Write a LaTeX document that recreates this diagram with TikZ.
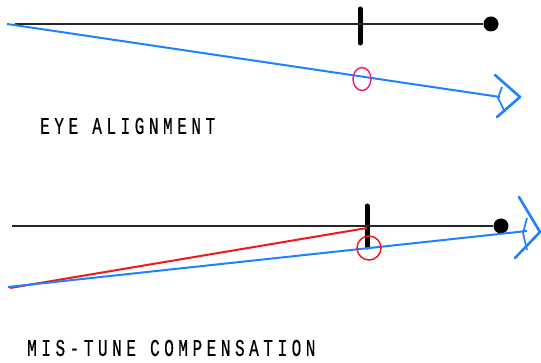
\documentclass[tikz,border=0pt]{standalone}
\usepackage{xcolor}
\usepackage{fontspec}
\usepackage{tikz}
\usetikzlibrary{arrows.meta,positioning,calc}
\setmonofont[LetterSpace=28.5,FakeBold=0.6]{Liberation Mono}
\definecolor{raycol}{HTML}{1E82FF}
\definecolor{pinkcol}{HTML}{F0207F}
\definecolor{redcol}{HTML}{F01818}
\newcommand{\caplabel}[1]{\scalebox{1}[1.5]{\ttfamily\fontsize{16}{16}\selectfont #1}}

\begin{document}
\begin{tikzpicture}[x=1pt,y=-1pt,
  axisline/.style={draw=black!85, line width=1.6pt},
  lens/.style={draw=black, line width=5pt, line cap=round},
  ray/.style={draw=raycol, line width=2pt},
  redray/.style={draw=redcol, line width=2pt},
  eyeline/.style={draw=raycol, line width=2.6pt, line cap=round, line join=round},
  eyeinner/.style={draw=raycol, line width=1.7pt, line join=round},
  fixdot/.style={circle, fill=black, inner sep=0pt, minimum size=#1},
  caption/.style={inner sep=0pt, anchor=west}
]
  \useasboundingbox (0,0) rectangle (541,363);
  % eye alignment
  \coordinate (axisA) at (15,24);
  \coordinate (rayA) at (7,24);
  \coordinate (eyeA) at (500,97);
  \coordinate (lensAtop) at (360,9);
  \coordinate (lensAbot) at (360,43);
  \node[fixdot=15pt] (dotA) at (491,24) {};
  \draw[lens] (lensAtop) -- (lensAbot);
  \draw[axisline] (axisA) -- (dotA);
  \draw[ray] (rayA) -- (eyeA);
  \draw[eyeline] (495,75) -- (520,97) -- (497,117);
  \draw[eyeinner] (502,87) -- (498,98) -- (505,112);
  \draw[pinkcol, line width=1.5pt] (362,79) ellipse [x radius=9, y radius=11.5];
  \node[caption] (capA) at (40,126) {\caplabel{EYE ALIGNMENT}};

  % mis-tune compensation
  \coordinate (axisB) at (12,226);
  \coordinate (rayB) at (8,287);
  \coordinate (redB) at (10,288);
  \coordinate (redBend) at (367,228);
  \coordinate (eyeB) at (527,231);
  \coordinate (lensBtop) at (367,206);
  \coordinate (lensBbot) at (367,247);
  \node[fixdot=15pt] (dotB) at (501,226) {};
  \draw[lens] (lensBtop) -- (lensBbot);
  \draw[axisline] (axisB) -- (dotB);
  \draw[redray] (redB) -- (redBend);
  \draw[ray] (rayB) -- (eyeB);
  \draw[eyeline] (519,197) -- (540,232) -- (515,258);
  \draw[eyeinner] (527,218) -- (523,233) -- (527,250);
  \draw[redcol, line width=1.5pt] (369,248) circle [radius=12];
  \node[caption] (capB) at (27,348) {\caplabel{MIS-TUNE COMPENSATION}};
\end{tikzpicture}
\end{document}
